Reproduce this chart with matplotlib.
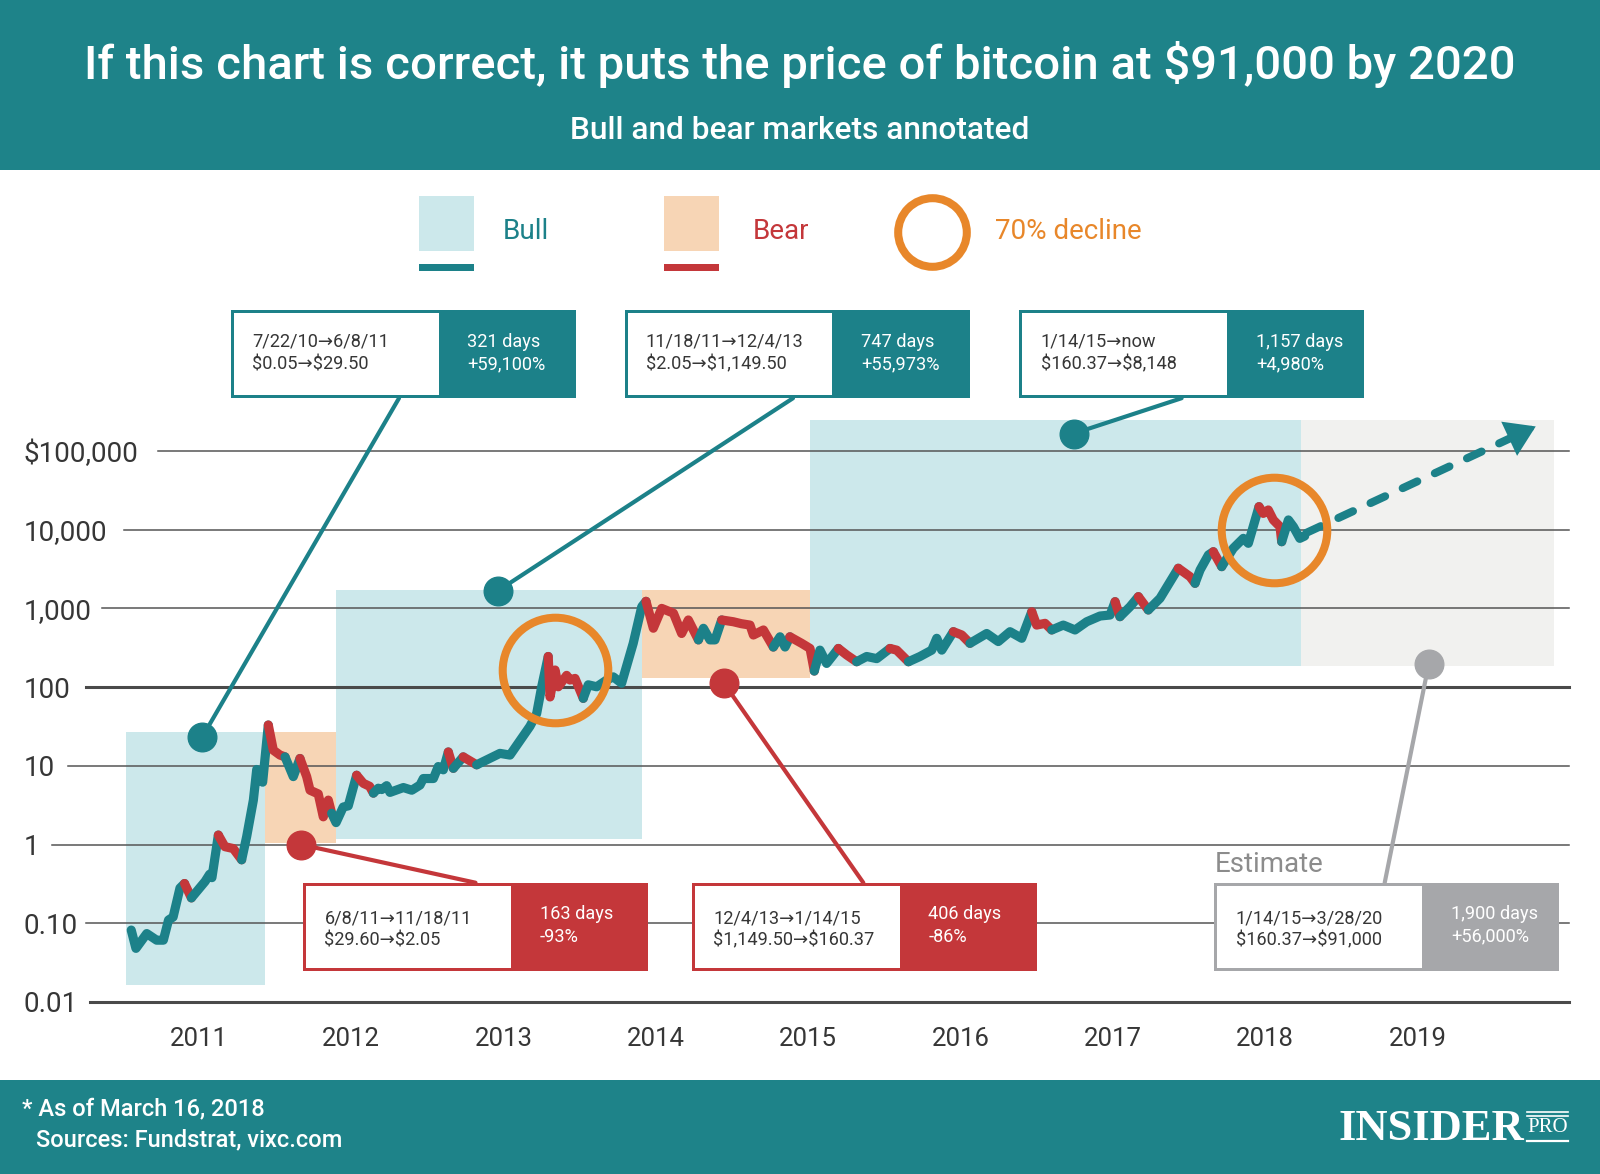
import matplotlib
matplotlib.use('Agg')
import matplotlib.pyplot as plt
from matplotlib.patches import Rectangle, ConnectionPatch
from matplotlib.lines import Line2D
from matplotlib.ticker import NullLocator
import matplotlib.transforms as mtransforms
import numpy as np

plt.rcParams['font.family'] = ['Roboto', 'DejaVu Sans']
plt.rcParams['text.parse_math'] = False

# ---------------- data ----------------
years = [2010.555, 2010.586, 2010.657, 2010.722, 2010.766, 2010.800, 2010.830, 2010.875,
         2010.905, 2010.950, 2011.040, 2011.070, 2011.085, 2011.127, 2011.170, 2011.225,
         2011.280, 2011.313, 2011.357, 2011.379, 2011.418, 2011.455, 2011.488, 2011.532,
         2011.565, 2011.619, 2011.663, 2011.707, 2011.729, 2011.783, 2011.816, 2011.849,
         2011.871, 2011.900, 2011.947, 2011.980, 2012.035, 2012.079, 2012.120, 2012.145,
         2012.177, 2012.200, 2012.232, 2012.254, 2012.342, 2012.397, 2012.451, 2012.473,
         2012.539, 2012.571, 2012.604, 2012.637, 2012.670, 2012.735, 2012.823, 2012.976,
         2013.042, 2013.173, 2013.217, 2013.250, 2013.293, 2013.305, 2013.338, 2013.359,
         2013.414, 2013.436, 2013.469, 2013.523, 2013.556, 2013.611, 2013.677, 2013.720,
         2013.775, 2013.851, 2013.907, 2013.935, 2013.983, 2014.038, 2014.115, 2014.169,
         2014.213, 2014.279, 2014.312, 2014.355, 2014.388, 2014.432, 2014.508, 2014.560,
         2014.618, 2014.640, 2014.706, 2014.771, 2014.815, 2014.848, 2014.880, 2014.957,
         2015.012, 2015.040, 2015.077, 2015.121, 2015.165, 2015.198, 2015.253, 2015.318,
         2015.384, 2015.450, 2015.537, 2015.581, 2015.658, 2015.734, 2015.811, 2015.844,
         2015.877, 2015.953, 2016.008, 2016.062, 2016.172, 2016.248, 2016.325, 2016.402,
         2016.468, 2016.500, 2016.555, 2016.599, 2016.675, 2016.752, 2016.829, 2016.916,
         2016.982, 2017.015, 2017.047, 2017.113, 2017.168, 2017.233, 2017.310, 2017.430,
         2017.507, 2017.540, 2017.573, 2017.628, 2017.660, 2017.715, 2017.791, 2017.857,
         2017.890, 2017.960, 2017.988, 2018.021, 2018.054, 2018.098, 2018.109, 2018.153,
         2018.186, 2018.228, 2018.260]
prices = [0.082, 0.048, 0.074, 0.061, 0.061, 0.11, 0.12, 0.28,
          0.32, 0.21, 0.34, 0.42, 0.38, 1.32, 0.94, 0.89,
          0.64, 1.26, 3.67, 9.0, 6.2, 33, 15.8, 13.7,
          13.0, 7.3, 12.4, 7.3, 4.9, 4.4, 2.25, 3.67,
          2.5, 1.9, 3.0, 3.1, 7.6, 6.0, 5.5, 4.5,
          5.2, 5.0, 5.6, 4.6, 5.3, 4.9, 5.7, 6.9,
          6.9, 9.8, 8.9, 15, 9.3, 13.0, 10.3, 14.4,
          13.7, 31.8, 46, 101, 245, 75, 165, 101,
          141, 123, 129, 72, 107, 101, 123, 135,
          112, 360, 1050, 1230, 560, 1000, 870, 480,
          713, 398, 559, 398, 398, 713, 677, 640,
          614, 459, 532, 323, 436, 323, 436, 360,
          310, 160, 295, 200, 256, 310, 256, 210,
          245, 230, 310, 295, 210, 245, 295, 417,
          295, 506, 460, 360, 480, 379, 506, 417,
          908, 614, 646, 532, 614, 532, 677, 800,
          824, 1217, 785, 1050, 1410, 955, 1343, 3236,
          2530, 2083, 3076, 4775, 5250, 3390, 5800, 7760,
          6710, 19600, 16100, 17800, 13300, 10900, 7030, 13300,
          10900, 7760, 8300]
# colour of the segment that starts at each point: t = teal (bull), r = red (bear)
seg_phase = list("tttttttt" "rttttrrr" "tttttrrr" "ttrrrrrr" "ttttrrrt"
                 "tttttttt" "tttrtrtt" "ttttrrrr" "rrrttttt" "tttrrrrr"
                 "rttttrrr" "rrrtttrr" "rttttrrt" "ttrrtttt" "trrttttt"
                 "rrrttttt" "trttrttr" "rtttrttt" "trrrrrtt" "ttt")

forecast_years = [2018.27, 2019.777]
forecast_prices = [9100, 205000]

ytick_vals = [0.01, 0.1, 1, 10, 100, 1000, 10000, 100000]
ytick_labels = ['0.01', '0.10', '1', '10', '100', '1,000', '10,000', '$100,000']
xtick_years = [2011, 2012, 2013, 2014, 2015, 2016, 2017, 2018, 2019]

phase_kind = ['bull', 'bear', 'bull', 'bear', 'bull', 'est']
phase_start = [2010.518, 2011.436, 2011.898, 2013.908, 2015.013, 2018.236]
phase_end = [2011.436, 2011.898, 2013.908, 2015.013, 2018.236, 2019.898]
phase_low = [0.0166, 1.05, 1.19, 132, 184, 184]
phase_high = [27, 27, 1727, 1727, 245000, 245000]

decline_years = [2013.338, 2018.056]
decline_prices = [167, 9820]

box_dates = ['7/22/10\u21926/8/11', '11/18/11\u219212/4/13', '1/14/15\u2192now',
             '6/8/11\u219211/18/11', '12/4/13\u21921/14/15', '1/14/15\u21923/28/20']
box_prices = ['$0.05\u2192$29.50', '$2.05\u2192$1,149.50', '$160.37\u2192$8,148',
              '$29.60\u2192$2.05', '$1,149.50\u2192$160.37', '$160.37\u2192$91,000']
box_days = ['321 days', '747 days', '1,157 days', '163 days', '406 days', '1,900 days']
box_change = ['+59,100%', '+55,973%', '+4,980%', '-93%', '-86%', '+56,000%']
box_kind = ['bull', 'bull', 'bull', 'bear', 'bear', 'est']
dot_years = [2011.02, 2012.963, 2016.742, 2011.67, 2014.444, 2019.074]
dot_prices = [23, 1675, 166000, 1.0, 114, 195]

# ---------------- style / layout ----------------
W, H, DPI = 1600, 1174, 100
TEAL = '#1c8189'
HEADER = '#1e8389'
RED = '#c4373a'
ORANGE = '#e8872a'
GRAY = '#a6a7aa'
GRID = '#555555'
TXT = '#363636'
FILL = {'bull': '#cce8eb', 'bear': '#f7d5b5', 'est': '#f1f1ef'}
KCOL = {'bull': TEAL, 'bear': RED, 'est': GRAY}


def fx(x):
    return x / W


def fy(y):
    return 1 - y / H


fig = plt.figure(figsize=(W / DPI, H / DPI), dpi=DPI)
fig.patch.set_facecolor('white')

AX_L, AX_R, AX_B, AX_T = 86.7, 1569.0, 1002.0, 411.6
ax = fig.add_axes([fx(AX_L), fy(AX_B), (AX_R - AX_L) / W, (AX_B - AX_T) / H])
ax.set_yscale('log')
ax.set_xlim(2011 + (AX_L - 199) / 152.3, 2011 + (AX_R - 199) / 152.3)
ax.set_ylim(0.01, 10 ** 5.5)
for s in ax.spines.values():
    s.set_visible(False)
ax.patch.set_alpha(0)
ax.set_yticks(ytick_vals)
ax.set_yticklabels(ytick_labels)
ax.yaxis.set_minor_locator(NullLocator())
ax.tick_params(axis='y', length=0, pad=(AX_L - 24) * 72 / DPI, labelsize=20, labelcolor=TXT)
for lab in ax.get_yticklabels():
    lab.set_ha('left')
ax.set_xticks(xtick_years)
ax.set_xticklabels([str(y) for y in xtick_years])
ax.xaxis.set_minor_locator(NullLocator())
ax.tick_params(axis='x', length=0, pad=18, labelsize=18.5, labelcolor=TXT)

# shaded phases
for k, x0, x1, lo, hi in zip(phase_kind, phase_start, phase_end, phase_low, phase_high):
    ax.add_patch(Rectangle((x0, lo), x1 - x0, hi - lo, facecolor=FILL[k],
                           edgecolor='none', zorder=1, clip_on=False))

# gridlines (start just right of each label)
grid_start = [90, 86, 52, 68, 86, 102, 124, 158]
trans = mtransforms.blended_transform_factory(fig.transFigure, ax.transData)
for v, st in zip(ytick_vals, grid_start):
    thick = v in (0.01, 100)
    ax.add_line(Line2D([fx(st), fx(AX_R)], [v, v], transform=trans, color='#4a4a4a' if thick else GRID,
                       lw=2.2 if thick else 1.1, zorder=2, clip_on=False))

# price line, coloured by phase
cols = {'t': TEAL, 'r': RED}
n = len(years)
i = 0
while i < n - 1:
    c = seg_phase[i]
    j = i
    while j < n - 1 and seg_phase[j] == c:
        j += 1
    ax.plot(years[i:j + 1], prices[i:j + 1], color=cols[c], lw=6.6,
            solid_capstyle='round', solid_joinstyle='round', zorder=3, clip_on=False)
    i = j

# forecast
lf0, lf1 = np.log10(forecast_prices[0]), np.log10(forecast_prices[1])
slope = (lf1 - lf0) / (forecast_years[1] - forecast_years[0])
back_x = forecast_years[1] - 0.07
back_y = 10 ** (lf1 - slope * 0.07)
fl, = ax.plot([forecast_years[0], back_x], [forecast_prices[0], back_y], color=TEAL, lw=5.8,
              dash_capstyle='round', zorder=3, clip_on=False)
fl.set_dashes([2.0, 2.4])
ax.annotate('', xy=(forecast_years[1], forecast_prices[1]), xytext=(back_x, back_y),
            arrowprops=dict(arrowstyle='-|>,head_length=0.7,head_width=0.45', color=TEAL,
                            lw=4, mutation_scale=22, shrinkA=0, shrinkB=0, joinstyle='miter'),
            zorder=3, annotation_clip=False)

# 70% decline circles
ax.plot(decline_years, decline_prices, ls='none', marker='o', ms=76, mfc='none', mec=ORANGE,
        mew=5.8, zorder=4, clip_on=False)

# annotation boxes (pixel layout)
box_left = [230.6, 624.5, 1019.4, 303.0, 691.8, 1214.3]
box_top = [310.2, 310.2, 310.2, 882.7, 882.7, 882.7]
box_w, box_h, white_w, bw = 345.0, 88.0, 208.0, 3.0
conn_x = [399.0, 793.0, 1181.6, 475.5, 863.3, 1384.7]
FS_BOX = 13.1

for k in range(6):
    col = KCOL[box_kind[k]]
    bx, by = box_left[k], box_top[k]
    ey = by + box_h if by < 600 else by
    con = ConnectionPatch(xyA=(dot_years[k], dot_prices[k]), coordsA=ax.transData,
                          xyB=(fx(conn_x[k]), fy(ey)), coordsB=fig.transFigure,
                          color=col, lw=3, zorder=5)
    con.set_clip_on(False)
    ax.add_artist(con)
    ax.plot([dot_years[k]], [dot_prices[k]], marker='o', ms=20.6, color=col, zorder=6, clip_on=False)

    fig.add_artist(Rectangle((fx(bx), fy(by + box_h)), box_w / W, box_h / H, transform=fig.transFigure,
                             facecolor=col, edgecolor='none', zorder=10))
    fig.add_artist(Rectangle((fx(bx + bw), fy(by + box_h - bw)), (white_w - bw) / W, (box_h - 2 * bw) / H,
                             transform=fig.transFigure, facecolor='white', edgecolor='none', zorder=11))
    off = 4.0 if by > 600 else 0
    fig.text(fx(bx + 21.4), fy(by + 31.6 + off), box_dates[k], ha='left', va='center',
             fontsize=FS_BOX, color=TXT, zorder=12)
    fig.text(fx(bx + 21.4), fy(by + 54.0 + off), box_prices[k], ha='left', va='center',
             fontsize=FS_BOX, color=TXT, zorder=12)
    fig.text(fx(bx + white_w + 28.6), fy(by + 31.6), box_days[k], ha='left', va='center',
             fontsize=FS_BOX, color='white', zorder=12)
    fig.text(fx(bx + white_w + 28.6), fy(by + 54.0), box_change[k], ha='left', va='center',
             fontsize=FS_BOX, color='white', zorder=12)

fig.text(fx(1215), fy(864), 'Estimate', ha='left', va='center', fontsize=20, color='#8c8c8c')

# header
fig.add_artist(Rectangle((0, fy(170)), 1, 170 / H, transform=fig.transFigure,
                         facecolor=HEADER, edgecolor='none', zorder=0))
fig.text(0.5, fy(64), 'If this chart is correct, it puts the price of bitcoin at $91,000 by 2020',
         ha='center', va='center', fontsize=34, color='white', fontweight='medium')
fig.text(0.5, fy(130.5), 'Bull and bear markets annotated', ha='center', va='center',
         fontsize=22.8, color='white', fontweight='medium')

# legend
fig.add_artist(Rectangle((fx(419.4), fy(251)), 55 / W, 55 / H, transform=fig.transFigure,
                         facecolor=FILL['bull'], edgecolor='none'))
fig.add_artist(Rectangle((fx(419.4), fy(271)), 55 / W, 7 / H, transform=fig.transFigure,
                         facecolor=TEAL, edgecolor='none'))
fig.text(fx(503), fy(231.6), 'Bull', ha='left', va='center', fontsize=20, color=TEAL)
fig.add_artist(Rectangle((fx(664), fy(251)), 55 / W, 55 / H, transform=fig.transFigure,
                         facecolor=FILL['bear'], edgecolor='none'))
fig.add_artist(Rectangle((fx(664), fy(271)), 55 / W, 7 / H, transform=fig.transFigure,
                         facecolor=RED, edgecolor='none'))
fig.text(fx(753), fy(231.6), 'Bear', ha='left', va='center', fontsize=20, color=RED)
fig.add_artist(Line2D([fx(931.6)], [fy(231.6)], transform=fig.transFigure, marker='o', ms=49.4,
                      mfc='none', mec=ORANGE, mew=5.8))
fig.text(fx(995), fy(231.6), '70% decline', ha='left', va='center', fontsize=20, color=ORANGE)

# footer
fig.add_artist(Rectangle((0, 0), 1, (H - 1080) / H, transform=fig.transFigure,
                         facecolor=HEADER, edgecolor='none', zorder=0))
fig.text(fx(22), fy(1109), '* As of March 16, 2018', ha='left', va='center', fontsize=17,
         color='white', fontweight='medium')
fig.text(fx(35.7), fy(1140), 'Sources: Fundstrat, vixc.com', ha='left', va='center', fontsize=17,
         color='white', fontweight='medium')
fig.text(fx(1339), fy(1129), 'INSIDER', ha='left', va='center', fontsize=32,
         family=['Liberation Serif', 'DejaVu Serif'], fontweight='bold', color='white')
fig.text(fx(1547.5), fy(1128), 'PRO', ha='center', va='center', fontsize=15,
         family=['Liberation Serif', 'DejaVu Serif'], color='white')
for yy, lw in ((1112, 1.2), (1115.5, 1.2), (1141, 1.6)):
    fig.add_artist(Line2D([fx(1527), fx(1568)], [fy(yy), fy(yy)], transform=fig.transFigure,
                          color='white', lw=lw))

fig.savefig('out.png', dpi=DPI, facecolor='white')
